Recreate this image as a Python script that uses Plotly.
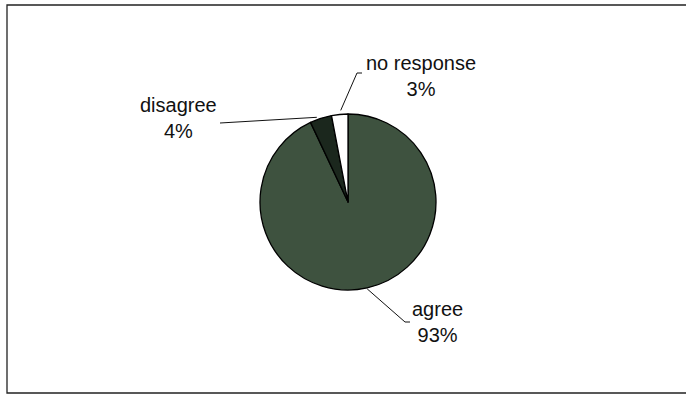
import math
import plotly.graph_objects as go

labels = ["agree", "disagree", "no response"]
values = [93, 4, 3]
colors = ["#3e523f", "#1b271d", "#ffffff"]

W, H = 686, 397
CX, CY, R = 348, 202, 88

def px(x):
    return x / W

def py(y):
    return 1 - y / H

fig = go.Figure(go.Pie(
    labels=labels, values=values, sort=False, direction="clockwise", rotation=0,
    marker=dict(colors=colors, line=dict(color="#000000", width=1.3)),
    textinfo="none", hoverinfo="label+percent", showlegend=False,
    domain=dict(x=[px(CX - R), px(CX + R)], y=[py(CY + R), py(CY - R)]),
))

# anchor points at slice mid-angles computed from data
total = sum(values)
anchors = []
cum = 0
for v in values:
    mid = (cum + v / 2) / total * 2 * math.pi
    anchors.append((CX + R * math.sin(mid), CY - R * math.cos(mid)))
    cum += v

shapes = [dict(type="rect", xref="paper", yref="paper", x0=px(7), x1=px(700), y0=py(393), y1=py(5),
               line=dict(color="#222", width=1.3))]

def path(points):
    d = "M " + " L ".join(f"{px(x)},{py(y)}" for x, y in points)
    return dict(type="path", xref="paper", yref="paper", path=d, line=dict(color="#111", width=1))

ax, ay = anchors[0]
shapes.append(path([(ax, ay + 1), (405, 322), (410, 322)]))
ax, ay = anchors[1]
shapes.append(path([(220, 123), (ax - 4, ay - 1)]))
ax, ay = anchors[2]
shapes.append(path([(ax + 1, ay - 4), (357, 73), (362, 73)]))

font = dict(family="Liberation Sans, Arial, sans-serif", size=20, color="#111")
texts = [f"{l}<br>{v}%" for l, v in zip(labels, values)]
pos = [(437, 322), (178, 118), (421, 76)]
annotations = [dict(text=t, x=px(x), y=py(y), xref="paper", yref="paper", showarrow=False,
                    font=font, align="center", xanchor="center", yanchor="middle")
               for t, (x, y) in zip(texts, pos)]

fig.update_layout(width=W, height=H, margin=dict(l=0, r=0, t=0, b=0),
                  paper_bgcolor="white", plot_bgcolor="white",
                  shapes=shapes, annotations=annotations)
fig.write_html("out.html")
